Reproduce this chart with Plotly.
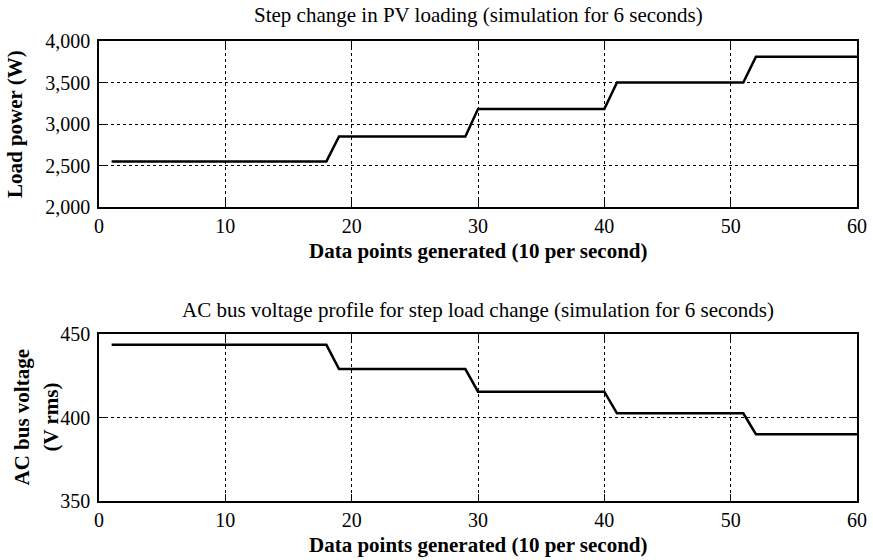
import plotly.graph_objects as go
from plotly.subplots import make_subplots

# Data
x_points = list(range(1, 61))
load_levels = [2550, 2850, 3180, 3500, 3810]
voltage_levels = [443.5, 429.0, 415.5, 402.5, 390.0]
step_starts = [1, 19, 30, 41, 52]  # first data point at each level


def level_series(levels):
    out = []
    for x in x_points:
        idx = 0
        for i, s in enumerate(step_starts):
            if x >= s:
                idx = i
        out.append(levels[idx])
    return out


load_power = level_series(load_levels)
ac_voltage = level_series(voltage_levels)

top_title = "Step change in PV loading (simulation for 6 seconds)"
bottom_title = "AC bus voltage profile for step load change (simulation for 6 seconds)"
x_title = "Data points generated (10 per second)"
y_top_title = "Load power (W)"
y_bottom_line1 = "AC bus voltage"
y_bottom_line2 = "(V rms)"

FONT = "Liberation Serif, Times New Roman, serif"
FS_TITLE = 21
FS_TICK = 20

TOP_DOM = [0.639, 1.0]
BOT_DOM = [0.0, 0.363]

fig = make_subplots(rows=2, cols=1, vertical_spacing=0.0)
fig.add_trace(go.Scatter(x=x_points, y=load_power, mode="lines",
                         line=dict(color="black", width=2.5), showlegend=False), row=1, col=1)
fig.add_trace(go.Scatter(x=x_points, y=ac_voltage, mode="lines",
                         line=dict(color="black", width=2.5), showlegend=False), row=2, col=1)

axis_common = dict(
    showline=True, linecolor="black", linewidth=1.5, mirror="ticks",
    ticks="inside", ticklen=7, tickwidth=1.2, tickcolor="black",
    showgrid=True, gridcolor="black", gridwidth=1, griddash="3px,3px",
    zeroline=False, automargin=False, ticklabeloverflow="allow",
    tickfont=dict(family=FONT, size=FS_TICK, color="black"),
)

fig.update_xaxes(**axis_common, range=[0, 60], dtick=10, tick0=0)
fig.update_yaxes(**axis_common, ticklabelstandoff=3)
fig.update_yaxes(row=1, col=1, range=[2000, 4000], dtick=500, tickformat=",")
fig.update_yaxes(row=2, col=1, range=[350, 450], dtick=50)

tf = dict(family=FONT, size=FS_TITLE, color="black")
annotations = [
    # plot titles
    dict(text=top_title, x=0.5, y=TOP_DOM[1], yshift=26, yanchor="middle"),
    dict(text=bottom_title, x=0.5, y=BOT_DOM[1], yshift=24, yanchor="middle"),
    # x axis titles
    dict(text="<b>" + x_title + "</b>", x=0.5, y=TOP_DOM[0], yshift=-44, yanchor="middle"),
    dict(text="<b>" + x_title + "</b>", x=0.5, y=BOT_DOM[0], yshift=-44, yanchor="middle"),
    # y axis titles
    dict(text="<b>" + y_top_title + "</b>", x=0, xshift=-84, y=sum(TOP_DOM) / 2,
         textangle=-90, xanchor="center", yanchor="middle"),
    dict(text="<b>" + y_bottom_line1 + "</b>", x=0, xshift=-77, y=sum(BOT_DOM) / 2,
         textangle=-90, xanchor="center", yanchor="middle"),
    dict(text="<b>" + y_bottom_line2 + "</b>", x=0, xshift=-48, y=sum(BOT_DOM) / 2,
         textangle=-90, xanchor="center", yanchor="middle"),
]
for a in annotations:
    a.update(xref="paper", yref="paper", showarrow=False, font=tf)

fig.update_layout(
    width=873, height=560,
    margin=dict(l=99, r=16, t=41, b=59, autoexpand=False),
    plot_bgcolor="white", paper_bgcolor="white",
    font=dict(family=FONT, color="black"),
    xaxis=dict(domain=[0, 1]),
    yaxis=dict(domain=TOP_DOM),
    yaxis2=dict(domain=BOT_DOM),
    annotations=annotations,
)

fig.write_html("out.html", config={"displayModeBar": False},
               post_script="document.body.style.margin='0px';")
